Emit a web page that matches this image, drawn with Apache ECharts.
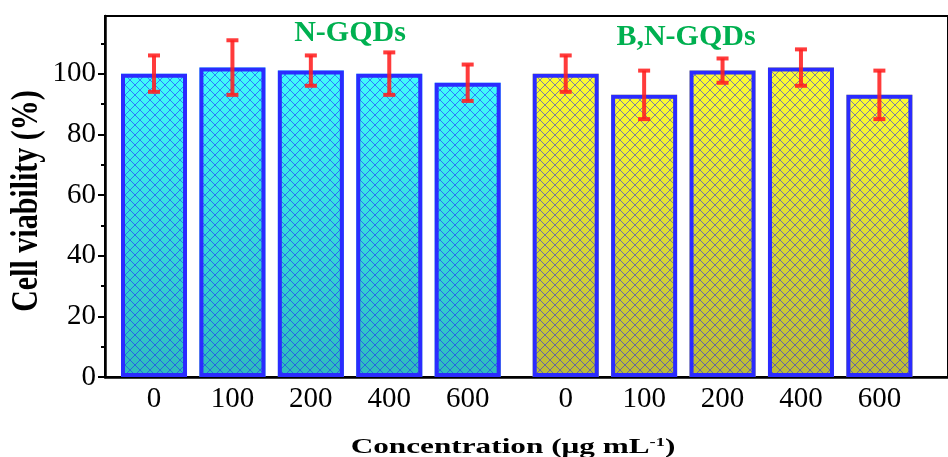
<!DOCTYPE html>
<html>
<head>
<meta charset="utf-8">
<script src="https://cdn.jsdelivr.net/npm/echarts@6/dist/echarts.min.js"></script>
<style>
  html, body { margin: 0; padding: 0; background: #fff; }
  #chart { width: 948px; height: 457px; }
</style>
</head>
<body>
<div id="chart"></div>
<script>
// ---- data ----
const concLabels = ['0', '100', '200', '400', '600'];
const groupNames = ['N-GQDs', 'B,N-GQDs'];
const nGQDs = [100, 102, 101, 100, 97];
const nGQDsErr = [6, 9, 5, 7, 6];
const bnGQDs = [100, 93, 101, 102, 93];
const bnGQDsErr = [6, 8, 4, 6, 8];
const yTicks = [0, 20, 40, 60, 80, 100];
const yTitle = 'Cell viability (%)';
const xTitle = 'Concentration (μg mL';

// ---- layout (fine category slots so the two groups can be separated) ----
const SLOTS_PER_BAR = 4;
const LEAD_SLOTS = 2;
const GROUP_GAP_SLOTS = 5;
const TOTAL_SLOTS = 43;
const SERIF = '"Liberation Serif", "Times New Roman", serif';

const categories = new Array(TOTAL_SLOTS).fill('');
const barIndex = [];
concLabels.forEach((l, i) => barIndex.push(LEAD_SLOTS + i * SLOTS_PER_BAR));
concLabels.forEach((l, i) => barIndex.push(LEAD_SLOTS + (concLabels.length - 1) * SLOTS_PER_BAR + GROUP_GAP_SLOTS + i * SLOTS_PER_BAR));
const allLabels = concLabels.concat(concLabels);
barIndex.forEach((idx, i) => { categories[idx] = allLabels[i]; });

const allValues = nGQDs.concat(bnGQDs);
const allErr = nGQDsErr.concat(bnGQDsErr);

function grad(top, bottom) {
  return new echarts.graphic.LinearGradient(0, 0, 0, 1, [
    { offset: 0, color: top }, { offset: 1, color: bottom }
  ]);
}
const cyanGrad = grad('#40fbfb', '#2fbcbc');
const yellowGrad = grad('#fcfc30', '#baba36');

// crosshatch pattern
const pc = document.createElement('canvas');
pc.width = 10; pc.height = 10;
const pctx = pc.getContext('2d');
pctx.strokeStyle = 'rgba(30,30,255,0.55)';
pctx.lineWidth = 1;
pctx.beginPath();
pctx.moveTo(0, 0); pctx.lineTo(10, 10);
pctx.moveTo(10, 0); pctx.lineTo(0, 10);
pctx.stroke();
const hatch = { image: pc, repeat: 'repeat' };

const baseData = allValues.map((v, i) => ({
  value: [barIndex[i], v],
  itemStyle: { color: i < concLabels.length ? cyanGrad : yellowGrad }
}));
const hatchData = allValues.map((v, i) => [barIndex[i], v]);
const errData = allValues.map((v, i) => [barIndex[i], v - allErr[i], v + allErr[i]]);

const chart = echarts.init(document.getElementById('chart'), null, { renderer: 'canvas' });
chart.setOption({
  animation: false,
  backgroundColor: '#fff',
  grid: {
    left: 105, top: 16, bottom: 80, right: 948 - (105 + TOTAL_SLOTS * 20),
    show: true, borderColor: '#000', borderWidth: 2, backgroundColor: 'transparent'
  },
  xAxis: {
    type: 'category',
    data: categories,
    axisLine: { lineStyle: { color: '#000', width: 2.5 } },
    axisTick: { show: false },
    axisLabel: { interval: 0, color: '#000', fontFamily: SERIF, fontSize: 29, margin: 8 },
    splitLine: { show: false }
  },
  yAxis: {
    type: 'value',
    min: 0, max: 119, interval: 20,
    axisLine: { show: true, lineStyle: { color: '#000', width: 2.5 } },
    axisTick: { show: true, inside: false, length: 7, lineStyle: { color: '#000', width: 2 }, customValues: yTicks },
    minorTick: { show: true, splitNumber: 2, length: 4, lineStyle: { color: '#000', width: 2 } },
    axisLabel: { color: '#000', fontFamily: SERIF, fontSize: 29, margin: 9, customValues: yTicks },
    splitLine: { show: false },
    minorSplitLine: { show: false }
  },
  series: [
    {
      type: 'bar', barWidth: 66, data: baseData, z: 2,
      itemStyle: { borderWidth: 0 }
    },
    {
      type: 'bar', barWidth: 66, barGap: '-100%', data: hatchData, z: 3,
      itemStyle: { color: hatch, borderColor: '#2b2bff', borderWidth: 4 }
    },
    {
      type: 'custom', data: errData, z: 5,
      renderItem: function (params, api) {
        const x = api.value(0);
        const lo = api.coord([x, api.value(1)]);
        const hi = api.coord([x, api.value(2)]);
        const cw = 6;
        const st = { stroke: '#ff2020', lineWidth: 4, opacity: 0.88 };
        return {
          type: 'group',
          children: [
            { type: 'line', shape: { x1: lo[0], y1: lo[1], x2: hi[0], y2: hi[1] }, style: st },
            { type: 'line', shape: { x1: hi[0] - cw, y1: hi[1], x2: hi[0] + cw, y2: hi[1] }, style: st },
            { type: 'line', shape: { x1: lo[0] - cw, y1: lo[1], x2: lo[0] + cw, y2: lo[1] }, style: st }
          ]
        };
      }
    }
  ],
  graphic: [
    {
      type: 'text', x: 350, y: 33, z: 10,
      style: { text: groupNames[0], font: 'bold 30px ' + SERIF, fill: '#00b050', textAlign: 'center', textVerticalAlign: 'middle' }
    },
    {
      type: 'text', x: 686, y: 37, z: 10,
      style: { text: groupNames[1], font: 'bold 30px ' + SERIF, fill: '#00b050', textAlign: 'center', textVerticalAlign: 'middle' }
    },
    {
      type: 'text', x: 27, y: 201, rotation: Math.PI / 2, scaleY: 1.25, z: 10,
      style: { text: yTitle, font: 'bold 30px ' + SERIF, fill: '#000', textAlign: 'center', textVerticalAlign: 'middle' }
    },
    {
      type: 'text', x: 513, y: 447, scaleX: 1.42, z: 10,
      style: {
        text: xTitle + '{sup|-1}' + ')',
        font: 'bold 22px ' + SERIF, fill: '#000', textAlign: 'center', textVerticalAlign: 'middle',
        rich: { sup: { font: 'bold 13px ' + SERIF, fill: '#000', verticalAlign: 'top', padding: [0, 0, 9, 0] } }
      }
    }
  ]
});
</script>
</body>
</html>
